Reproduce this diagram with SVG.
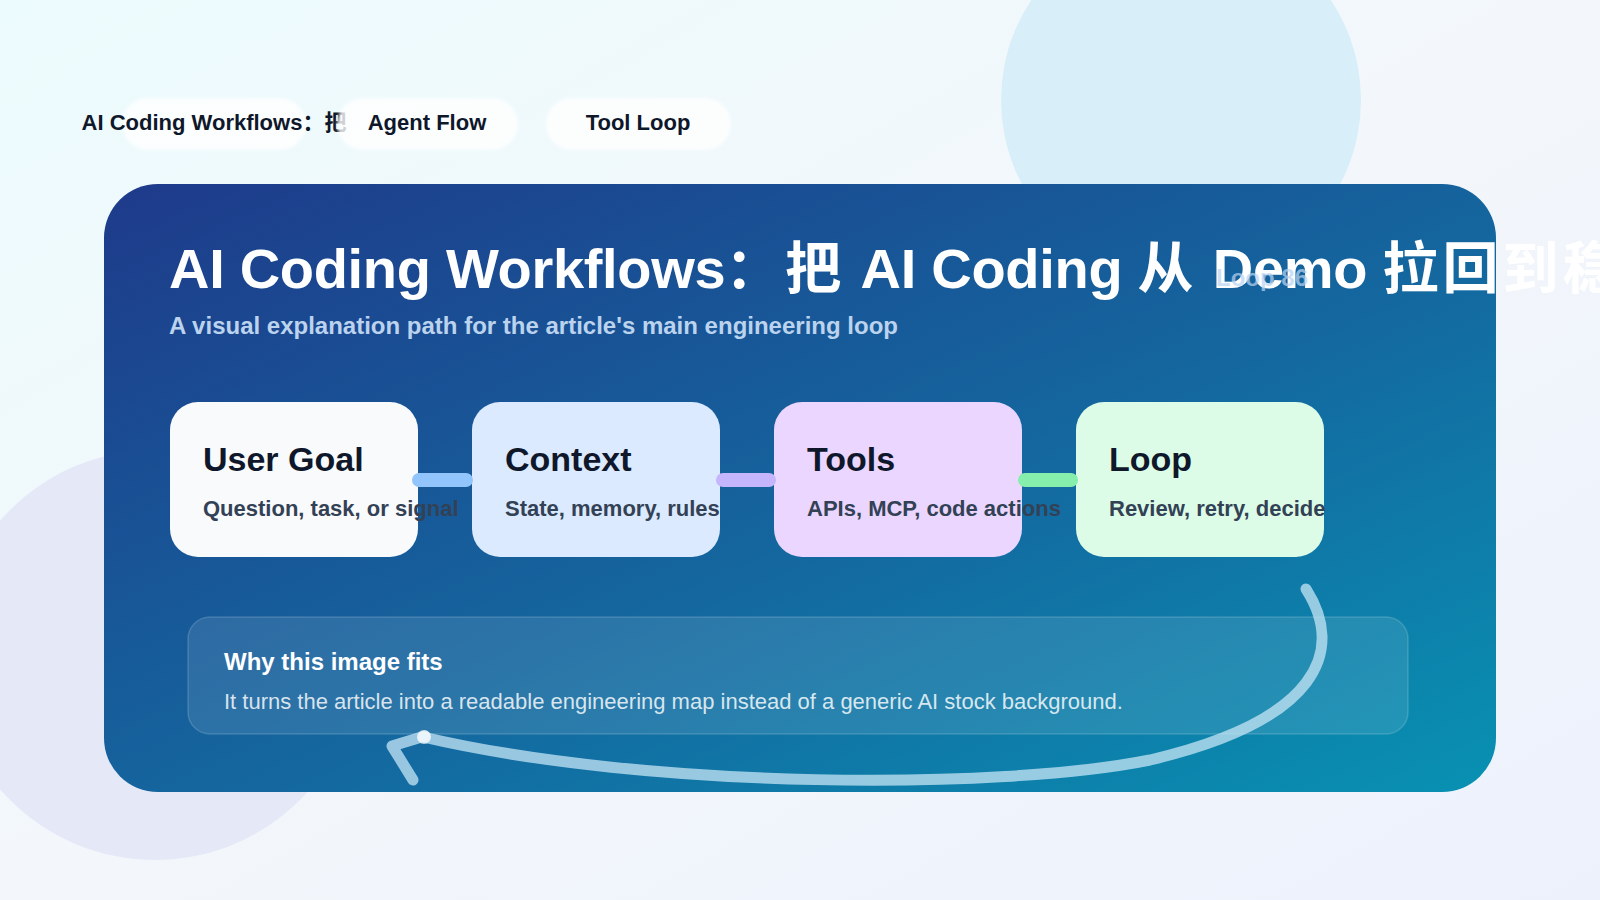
<svg xmlns="http://www.w3.org/2000/svg" width="1600" height="900" viewBox="0 0 1600 900">
  <defs>
    <linearGradient id="bg" x1="0" y1="0" x2="1" y2="1">
      <stop offset="0" stop-color="#ecfbfd"/>
      <stop offset="0.5" stop-color="#f3f7fb"/>
      <stop offset="1" stop-color="#ecf1fc"/>
    </linearGradient>
    <linearGradient id="panel" x1="0" y1="0" x2="1" y2="1">
      <stop offset="0" stop-color="#1e3a8a"/>
      <stop offset="0.55" stop-color="#14679f"/>
      <stop offset="1" stop-color="#0891b2"/>
    </linearGradient>
    <filter id="soft" x="-20%" y="-40%" width="140%" height="180%">
      <feGaussianBlur stdDeviation="1.5"/>
    </filter>
    <style>
      .sans { font-family: "Liberation Sans", Arial, "Noto Sans CJK SC", sans-serif; }
      .pill { fill: #ffffff; fill-opacity: 0.8; }
      .pilltxt { font-size: 22px; font-weight: 700; fill: #0f172a; text-anchor: middle; }
      .node rect { stroke: none; }
      .ntitle { font-size: 34px; font-weight: 700; fill: #0f172a; }
      .nsub { font-size: 22px; font-weight: 700; fill: #334155; }
      .conn { stroke-width: 14; stroke-linecap: round; fill: none; }
      .cjk { letter-spacing: 4px; }
    </style>
  </defs>

  <!-- background -->
  <rect width="1600" height="900" fill="url(#bg)"/>
  <circle cx="1181" cy="100" r="180" fill="#d8eef9"/>
  <circle cx="155" cy="655" r="205" fill="#e5e9f7"/>

  <!-- top pills -->
  <g id="pill-1">
    <rect class="pill" x="122" y="98" width="184" height="52" rx="26" filter="url(#soft)"/>
    <text class="sans pilltxt" x="214" y="130">AI Coding Workflows：把</text>
  </g>
  <g id="pill-2">
    <rect class="pill" x="337" y="98" width="181" height="52" rx="26" filter="url(#soft)"/>
    <text class="sans pilltxt" x="427" y="130">Agent Flow</text>
  </g>
  <g id="pill-3">
    <rect class="pill" x="546" y="98" width="185" height="52" rx="26" filter="url(#soft)"/>
    <text class="sans pilltxt" x="638" y="130">Tool Loop</text>
  </g>

  <!-- main panel -->
  <g id="panel-bg">
    <rect x="104" y="184" width="1392" height="608" rx="54" fill="url(#panel)"/>
  </g>

  <g id="title">
    <text class="sans" x="169" y="288" font-size="56" font-weight="700" fill="#ffffff" letter-spacing="-0.3">AI Coding Workflows<tspan class="cjk">：把</tspan> AI Coding <tspan class="cjk">从</tspan> Demo <tspan class="cjk">拉回到稳</tspan></text>
    <text class="sans" x="1216" y="286" font-size="24" font-weight="700" fill="#b9d3f2" fill-opacity="0.72">Loop 86</text>
    <text class="sans" x="169" y="334" font-size="24" font-weight="700" fill="#bcd3ee">A visual explanation path for the article's main engineering loop</text>
  </g>

  <!-- nodes -->
  <g id="node-user-goal" class="node">
    <rect x="170" y="402" width="248" height="155" rx="28" fill="#f8fafc"/>
    <text class="sans ntitle" x="203" y="471">User Goal</text>
    <text class="sans nsub" x="203" y="516">Question, task, or signal</text>
  </g>
  <g id="node-context" class="node">
    <rect x="472" y="402" width="248" height="155" rx="28" fill="#dbeafe"/>
    <text class="sans ntitle" x="505" y="471">Context</text>
    <text class="sans nsub" x="505" y="516">State, memory, rules</text>
  </g>
  <g id="node-tools" class="node">
    <rect x="774" y="402" width="248" height="155" rx="28" fill="#ead6fe"/>
    <text class="sans ntitle" x="807" y="471">Tools</text>
    <text class="sans nsub" x="807" y="516">APIs, MCP, code actions</text>
  </g>
  <g id="node-loop" class="node">
    <rect x="1076" y="402" width="248" height="155" rx="28" fill="#dcfce7"/>
    <text class="sans ntitle" x="1109" y="471">Loop</text>
    <text class="sans nsub" x="1109" y="516">Review, retry, decide</text>
  </g>

  <!-- note card -->
  <g id="note">
    <rect x="188" y="617" width="1220" height="117" rx="22" fill="#ffffff" fill-opacity="0.1" stroke="#ffffff" stroke-opacity="0.16" stroke-width="1.5"/>
    <text class="sans" x="224" y="670" font-size="24" font-weight="700" fill="#ffffff">Why this image fits</text>
    <text class="sans" x="224" y="709" font-size="22" fill="#ffffff" fill-opacity="0.82">It turns the article into a readable engineering map instead of a generic AI stock background.</text>
  </g>

  <!-- connectors -->
  <g id="connectors">
    <line class="conn" x1="419" y1="480" x2="466" y2="480" stroke="#93c5fd"/>
    <line class="conn" x1="723" y1="480" x2="769" y2="480" stroke="#c4b5fd"/>
    <line class="conn" x1="1025" y1="480" x2="1071" y2="480" stroke="#86efac"/>
    <path d="M 1306 589 C 1345 650, 1320 720, 1150 760 C 1000 790, 650 790, 423 737" fill="none" stroke="#c6e6f5" stroke-opacity="0.75" stroke-width="11" stroke-linecap="round"/>
    <polyline points="425,736 392,746 413,780" fill="none" stroke="#c6e6f5" stroke-opacity="0.75" stroke-width="11" stroke-linecap="round" stroke-linejoin="round"/>
    <circle cx="424" cy="737" r="7" fill="#ffffff" fill-opacity="0.7"/>
  </g>
</svg>
